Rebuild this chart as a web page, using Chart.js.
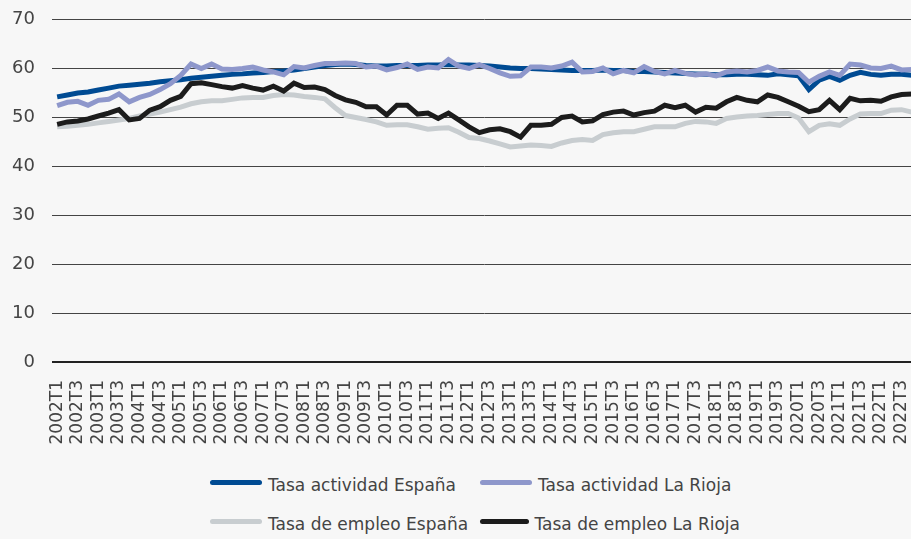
<!DOCTYPE html>
<html>
<head>
<meta charset="utf-8">
<script src="https://cdn.jsdelivr.net/npm/chart.js@4.4.1/dist/chart.umd.min.js"></script>
<style>
  html, body { margin: 0; padding: 0; background: #f7f7f7; overflow: hidden; }
  #wrap { position: relative; width: 911px; height: 539px; overflow: hidden; }
  #chart { position: absolute; left: 0; top: 0; }
  #legend { position: absolute; left: 210px; top: 474px; font-family: "DejaVu Sans", sans-serif;
            font-size: 17px; color: #444; display: grid; grid-template-columns: 270px 260px; row-gap: 17px; }
  .item { display: flex; align-items: center; white-space: nowrap; height: 22px; }
  .swatch { display: inline-block; width: 52px; height: 5px; border-radius: 3px; margin-right: 6px; margin-top: -6px; }
</style>
</head>
<body>
<div id="wrap">
  <canvas id="chart" width="917" height="460"></canvas>
  <div id="legend"></div>
</div>
<script>
// quarters 2002T1 .. 2022T4
const quarters = [];
for (let y = 2002; y <= 2022; y++) {
    for (let q = 1; q <= 4; q++) quarters.push(y + 'T' + q);
}

const yTicks = [0, 10, 20, 30, 40, 50, 60, 70];

const actividadEspana = [
    54.1, 54.5, 54.9, 55.1, 55.5, 55.9, 56.3, 56.5, 56.7, 56.9,
    57.2, 57.4, 57.6, 57.9, 58.1, 58.3, 58.5, 58.7, 58.8, 59.0,
    59.1, 59.3, 59.4, 59.6, 59.9, 60.2, 60.5, 60.7, 60.8, 60.7,
    60.5, 60.4, 60.4, 60.5, 60.5, 60.5, 60.6, 60.6, 60.7, 60.6,
    60.6, 60.5, 60.4, 60.2, 60.0, 59.9, 59.9, 59.8, 59.7, 59.6,
    59.5, 59.5, 59.5, 59.6, 59.5, 59.5, 59.3, 59.3, 59.2, 59.1,
    59.0, 58.9, 58.8, 58.7, 58.6, 58.6, 58.7, 58.7, 58.6, 58.5,
    58.8, 58.6, 58.4, 55.6, 57.5, 58.3, 57.5, 58.5, 59.1, 58.7,
    58.5, 58.7, 58.7, 58.5
];

const actividadRioja = [
    52.3, 53.0, 53.2, 52.4, 53.4, 53.6, 54.7, 53.1, 54.0, 54.6,
    55.6, 56.8, 58.5, 60.8, 59.9, 60.8, 59.8, 59.7, 59.9, 60.2,
    59.6, 59.2, 58.6, 60.3, 60.0, 60.5, 60.9, 60.9, 61.0, 60.9,
    60.2, 60.4, 59.6, 60.1, 60.8, 59.7, 60.2, 60.0, 61.7, 60.4,
    59.9, 60.7, 59.9, 59.0, 58.3, 58.4, 60.2, 60.2, 60.0, 60.4,
    61.2, 59.2, 59.3, 60.0, 58.8, 59.5, 59.0, 60.3, 59.3, 58.8,
    59.5, 58.9, 58.6, 58.8, 58.4, 59.2, 59.4, 59.2, 59.5, 60.2,
    59.4, 59.2, 59.1, 57.1, 58.3, 59.2, 58.5, 60.8, 60.6, 60.0,
    59.9, 60.4, 59.6, 59.7
];

const empleoEspana = [
    48.0, 48.1, 48.3, 48.5, 48.8, 49.1, 49.4, 49.7, 50.2, 50.6,
    51.0, 51.5, 52.0, 52.7, 53.1, 53.3, 53.3, 53.6, 53.9, 54.0,
    54.0, 54.4, 54.6, 54.5, 54.2, 54.0, 53.7, 51.9, 50.3, 49.9,
    49.5, 49.0, 48.3, 48.4, 48.4, 48.0, 47.5, 47.7, 47.8, 46.9,
    45.8, 45.6, 45.1, 44.5, 43.9, 44.1, 44.3, 44.2, 44.0, 44.7,
    45.2, 45.4, 45.2, 46.4, 46.8, 47.0, 47.0, 47.5, 48.0, 48.0,
    48.0, 48.7, 49.1, 49.0, 48.7, 49.7, 50.0, 50.2, 50.3, 50.5,
    50.7, 50.7, 49.8, 47.0, 48.3, 48.6, 48.3, 49.6, 50.6, 50.7,
    50.7, 51.4, 51.5, 51.0
];

const empleoRioja = [
    48.5, 49.0, 49.2, 49.6, 50.2, 50.8, 51.5, 49.4, 49.7, 51.4,
    52.1, 53.4, 54.2, 56.8, 57.0, 56.6, 56.2, 55.9, 56.4, 55.9,
    55.5, 56.3, 55.3, 56.9, 56.0, 56.1, 55.6, 54.4, 53.5, 53.0,
    52.1, 52.1, 50.4, 52.4, 52.4, 50.6, 50.8, 49.7, 50.8, 49.4,
    48.0, 46.8, 47.4, 47.6, 47.0, 45.9, 48.3, 48.3, 48.5, 49.9,
    50.2, 49.0, 49.2, 50.5, 51.0, 51.2, 50.4, 50.9, 51.2, 52.4,
    51.9, 52.4, 51.0, 52.0, 51.8, 53.1, 54.0, 53.4, 53.1, 54.5,
    54.0, 53.1, 52.2, 51.1, 51.5, 53.4, 51.5, 53.8, 53.3, 53.4,
    53.2, 54.1, 54.6, 54.7
];

const seriesNames = ['Tasa actividad España', 'Tasa actividad La Rioja', 'Tasa de empleo España', 'Tasa de empleo La Rioja'];
const seriesColors = ['#004b93', '#8e97cb', '#c8cdd0', '#1c1c1c'];

const textColor = '#444';
const ctx = document.getElementById('chart').getContext('2d');

const chart = new Chart(ctx, {
    type: 'line',
    data: {
        labels: quarters,
        datasets: [
            { label: seriesNames[0], data: actividadEspana, borderColor: seriesColors[0], order: 4 },
            { label: seriesNames[1], data: actividadRioja, borderColor: seriesColors[1], order: 2 },
            { label: seriesNames[2], data: empleoEspana, borderColor: seriesColors[2], order: 3 },
            { label: seriesNames[3], data: empleoRioja, borderColor: seriesColors[3], order: 1 }
        ].map(d => Object.assign(d, {
            borderWidth: 5,
            pointRadius: 0,
            tension: 0,
            fill: false
        }))
    },
    options: {
        responsive: false,
        animation: false,
        devicePixelRatio: 1,
        layout: { padding: { top: 19, left: 0, right: 0, bottom: 0 } },
        plugins: {
            legend: { display: false },
            tooltip: { enabled: false }
        },
        scales: {
            x: {
                offset: true,
                grid: { display: false },
                border: { display: false },
                ticks: {
                    autoSkip: false,
                    maxRotation: 90,
                    minRotation: 90,
                    padding: 10,
                    color: textColor,
                    font: { family: 'DejaVu Sans', size: 17 },
                    callback: function(val, i) { return i % 2 === 0 ? this.getLabelForValue(val) : ''; }
                },
                afterFit: s => {
                    s.height = 98;
                    s.paddingLeft = 0;
                    s.paddingRight = 0;
                }
            },
            y: {
                min: 0,
                max: 70,
                afterBuildTicks: s => { s.ticks = yTicks.map(v => ({ value: v })); },
                grid: {
                    drawTicks: false,
                    color: c => c.tick.value === 0 ? '#222' : '#444',
                    lineWidth: c => c.tick.value === 0 ? 2 : 1
                },
                border: { display: false },
                ticks: {
                    padding: 17,
                    color: textColor,
                    font: { family: 'DejaVu Sans', size: 18 }
                },
                afterFit: s => {
                    s.width = 52;
                    s.paddingTop = 0;
                    s.paddingBottom = 0;
                }
            }
        }
    }
});

// legend in two columns, built from the chart's datasets
const legend = document.getElementById('legend');
chart.data.datasets.forEach(ds => {
    const item = document.createElement('div');
    item.className = 'item';
    const sw = document.createElement('span');
    sw.className = 'swatch';
    sw.style.background = ds.borderColor;
    item.appendChild(sw);
    item.appendChild(document.createTextNode(ds.label));
    legend.appendChild(item);
});
</script>
</body>
</html>
